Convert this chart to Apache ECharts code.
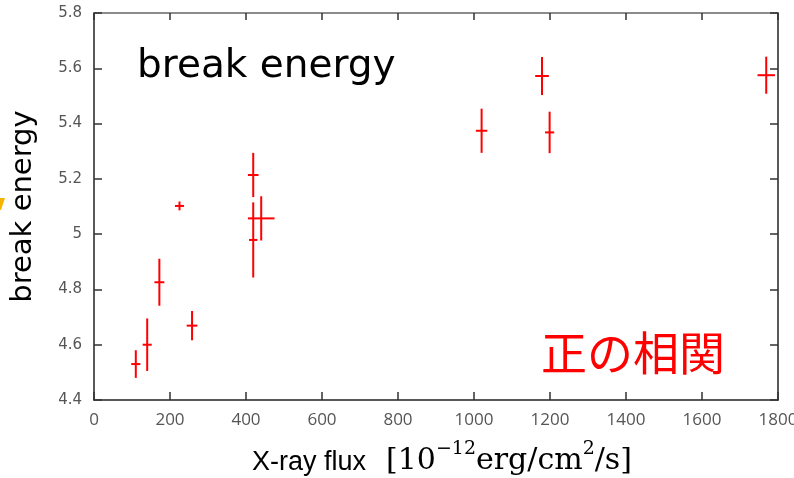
<!DOCTYPE html>
<html>
<head>
<meta charset="utf-8">
<script src="https://cdn.jsdelivr.net/npm/echarts@6/dist/echarts.min.js"></script>
<style>
html,body{margin:0;padding:0;background:#fff;}
#chart{width:794px;height:478px;}
</style>
</head>
<body>
<div id="chart"></div>
<script>
// X-ray flux [1e-12 erg/cm2/s] and its error
var flux      = [110, 140, 172, 258, 225, 419, 419, 440, 1020, 1179, 1199, 1769];
var fluxErr   = [12, 12, 13, 14, 12, 14, 11, 35, 15, 18, 12, 23];
// break energy and its error
var energy    = [4.53, 4.60, 4.826, 4.669, 5.102, 5.214, 4.979, 5.057, 5.374, 5.572, 5.368, 5.575];
var energyErr = [0.05, 0.095, 0.085, 0.053, 0.016, 0.08, 0.136, 0.08, 0.08, 0.069, 0.075, 0.067];

var xMin = 0, xMax = 1800, xStep = 200;
var yMin = 4.4, yMax = 5.8, yStep = 0.2;

var chart = echarts.init(document.getElementById('chart'), null, {renderer: 'canvas'});

var data = flux.map(function (f, i) { return [f, energy[i], fluxErr[i], energyErr[i]]; });

var tickStyle = {color: '#333', width: 1.5};
var plainNum = function (v) { return String(Math.round(v * 100) / 100); };

var option = {
  backgroundColor: '#ffffff',
  animation: false,
  grid: {left: 94, right: 16, top: 13, bottom: 78, containLabel: false, outerBoundsMode: 'none'},
  xAxis: [
    {
      type: 'value', position: 'bottom', min: xMin, max: xMax, interval: xStep,
      axisLine: {show: true, onZero: false, lineStyle: {color: '#222', width: 1.5}},
      axisTick: {show: true, inside: true, length: 8, lineStyle: tickStyle},
      splitLine: {show: false},
      axisLabel: {show: true, fontFamily: 'Open Sans', fontSize: 17, color: '#555', margin: 12, formatter: plainNum}
    },
    {
      type: 'value', position: 'top', min: xMin, max: xMax, interval: xStep,
      axisLine: {show: true, onZero: false, lineStyle: {color: '#666', width: 1.5}},
      axisTick: {show: true, inside: true, length: 7, lineStyle: tickStyle},
      splitLine: {show: false},
      axisLabel: {show: false}
    }
  ],
  yAxis: [
    {
      type: 'value', position: 'left', min: yMin, max: yMax, interval: yStep,
      axisLine: {show: true, onZero: false, lineStyle: {color: '#222', width: 1.5}},
      axisTick: {show: true, inside: true, length: 8, lineStyle: tickStyle},
      splitLine: {show: false},
      axisLabel: {show: true, fontFamily: 'DejaVu Sans', fontSize: 15, color: '#555', margin: 12, formatter: plainNum},
      name: 'break energy',
      nameLocation: 'middle',
      nameGap: 56,
      nameTextStyle: {fontFamily: 'DejaVu Sans', fontSize: 29, color: '#000'}
    },
    {
      type: 'value', position: 'right', min: yMin, max: yMax, interval: yStep,
      axisLine: {show: true, onZero: false, lineStyle: {color: '#222', width: 1.5}},
      axisTick: {show: true, inside: true, length: 8, lineStyle: tickStyle},
      splitLine: {show: false},
      axisLabel: {show: false}
    }
  ],
  series: [{
    type: 'custom',
    xAxisIndex: 0,
    yAxisIndex: 0,
    data: data,
    encode: {x: 0, y: 1},
    renderItem: function (params, api) {
      var x = api.value(0), y = api.value(1), xe = api.value(2), ye = api.value(3);
      var c = api.coord([x, y]);
      var l = api.coord([x - xe, y]);
      var r = api.coord([x + xe, y]);
      var t = api.coord([x, y + ye]);
      var b = api.coord([x, y - ye]);
      var st = {stroke: '#ff0000', lineWidth: 2};
      return {
        type: 'group',
        children: [
          {type: 'line', shape: {x1: l[0], y1: c[1], x2: r[0], y2: c[1]}, style: st},
          {type: 'line', shape: {x1: c[0], y1: t[1], x2: c[0], y2: b[1]}, style: st}
        ]
      };
    }
  }],
  graphic: [
    {
      type: 'text', left: 137, top: 47,
      style: {text: 'break energy', fontFamily: 'DejaVu Sans', fontSize: 39, fill: '#000'}
    },
    {
      type: 'text', left: 541, top: 330,
      style: {text: '正の相関', fontFamily: 'Noto Sans CJK JP', fontSize: 46, fill: '#ff0000'}
    },
    {
      type: 'text', left: 252, top: 440,
      style: {
        text: '{a|X-ray flux}{g| }{b|[10}{s|−12}{b|erg/cm}{s|2}{b|/s]}',
        rich: {
          a: {fontFamily: 'Liberation Sans', fontSize: 27, fill: '#000', verticalAlign: 'bottom', lineHeight: 36},
          g: {fontSize: 27, width: 20},
          b: {fontFamily: 'DejaVu Serif', fontSize: 30, fill: '#000', verticalAlign: 'bottom', lineHeight: 36},
          s: {fontFamily: 'DejaVu Serif', fontSize: 19, fill: '#000', verticalAlign: 'top', lineHeight: 22}
        }
      }
    },
    {
      type: 'polygon',
      shape: {points: [[0, 198], [5, 198], [1, 210], [0, 210]]},
      style: {fill: '#f5b400'}
    }
  ]
};

chart.setOption(option);
</script>
</body>
</html>
